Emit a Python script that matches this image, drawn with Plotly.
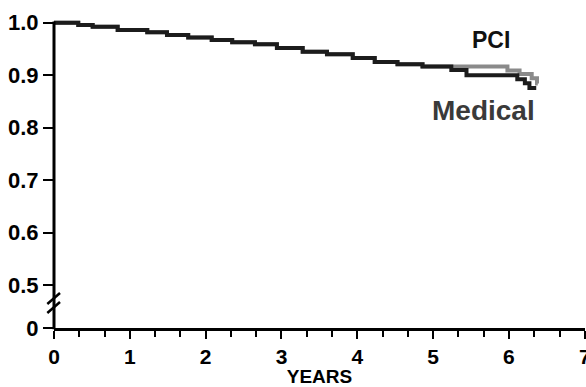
import plotly.graph_objects as go

# --- data ---
pci_years = [0, 0.32, 0.51, 0.84, 1.23, 1.49, 1.77, 2.08, 2.35, 2.65, 2.94, 3.28, 3.60,
             3.94, 4.23, 4.53, 4.86, 5.98, 6.14, 6.30, 6.37, 6.38]
pci_surv = [1.0, 0.9956, 0.9924, 0.986, 0.9817, 0.9766, 0.972, 0.967, 0.9626, 0.9588, 0.952,
            0.9447, 0.940, 0.9327, 0.925, 0.921, 0.9165, 0.909, 0.902, 0.894, 0.884, 0.884]

med_years = [0, 0.32, 0.51, 0.84, 1.23, 1.49, 1.77, 2.08, 2.35, 2.65, 2.94, 3.28, 3.60,
             3.94, 4.23, 4.53, 4.86, 5.24, 5.44, 6.11, 6.21, 6.27, 6.36]
med_surv = [1.0, 0.9956, 0.9924, 0.986, 0.9817, 0.9766, 0.972, 0.967, 0.9626, 0.9588, 0.952,
            0.9447, 0.940, 0.9327, 0.925, 0.921, 0.9165, 0.910, 0.900, 0.892, 0.8845, 0.8755, 0.8755]

y_zero_pos = 0.418          # where the broken axis puts "0"
y_tickvals = [y_zero_pos, 0.5, 0.6, 0.7, 0.8, 0.9, 1.0]
y_ticktext = ["0", "0.5", "0.6", "0.7", "0.8", "0.9", "1.0"]
x_tickvals = [0, 1, 2, 3, 4, 5, 6, 7]
x_ticktext = ["0", "1", "2", "3", "4", "5", "6", "7"]

Y_RANGE = [y_zero_pos, 1.0204]
X_RANGE = [0, 7.003]
FONT = "Liberation Sans, Arial, sans-serif"

fig = go.Figure()
fig.add_trace(go.Scatter(x=pci_years, y=pci_surv, mode="lines", line_shape="hv",
                         line=dict(color="#8a8a8a", width=4), name="PCI"))
fig.add_trace(go.Scatter(x=med_years, y=med_surv, mode="lines", line_shape="hv",
                         line=dict(color="#1c1c1c", width=4), name="Medical"))

fig.update_layout(
    width=586, height=387,
    margin=dict(l=54, r=1, t=12, b=59),
    paper_bgcolor="white", plot_bgcolor="white",
    showlegend=False,
    font=dict(family=FONT, color="black"),
    xaxis=dict(range=X_RANGE, tickvals=x_tickvals, ticktext=x_ticktext,
               showgrid=False, zeroline=False, showline=True, linewidth=3, linecolor="black",
               ticks="outside", ticklen=8, tickwidth=2, tickcolor="black",
               minor=dict(dtick=1/3, tick0=0, ticks="outside", ticklen=6, tickwidth=2,
                          tickcolor="black", showgrid=False),
               tickfont=dict(size=21, family=FONT, color="black", weight="bold"),
               ticklabeloverflow="allow",
               automargin=False,
               title=dict(text="<b>YEARS</b>", font=dict(size=19, family=FONT), standoff=0)),
    yaxis=dict(range=Y_RANGE, tickvals=y_tickvals, ticktext=y_ticktext,
               showgrid=False, zeroline=False, showline=False,
               ticks="outside", ticklen=10, tickwidth=2, tickcolor="black",
               tickfont=dict(size=22, family=FONT, color="black", weight="bold"),
               automargin=False),
)

span = Y_RANGE[1] - Y_RANGE[0]
def yp(v):
    return (v - Y_RANGE[0]) / span

# y-axis line (from 0 up to 1.0)
fig.add_shape(type="line", xref="paper", yref="paper", x0=0, x1=0, y0=-0.004, y1=yp(1.0) + 0.004,
              line=dict(color="black", width=3))
# axis break marks
for y0v, y1v in [(0.4638, 0.4848), (0.4466, 0.4676)]:
    fig.add_shape(type="line", xref="paper", yref="paper",
                  x0=-6.7 / 531, x1=6 / 531, y0=yp(y0v), y1=yp(y1v),
                  line=dict(color="black", width=2.5))

fig.add_annotation(x=5.76, y=0.967, text="<b>PCI</b>", showarrow=False,
                   font=dict(size=23, family=FONT, color="#111111"))
fig.add_annotation(x=5.66, y=0.832, text="<b>Medical</b>", showarrow=False,
                   font=dict(size=28, family=FONT, color="#3a3a3a"))

fig.write_html("out.html")
